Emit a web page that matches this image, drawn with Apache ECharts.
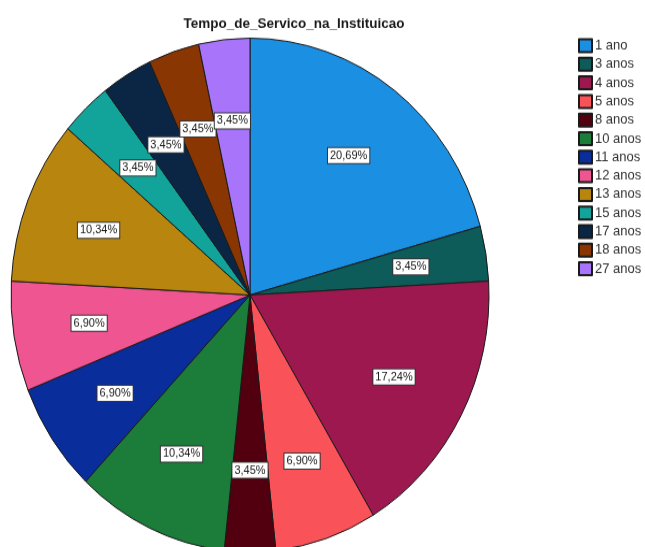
<!DOCTYPE html>
<html>
<head>
<meta charset="utf-8">
<script src="https://cdn.jsdelivr.net/npm/echarts@6/dist/echarts.min.js"></script>
<style>
  html, body { margin: 0; padding: 0; background: #ffffff; overflow: hidden; }
  #wrap { width: 645px; height: 547px; overflow: hidden; }
  /* the chart is drawn slightly taller than wide, like the original export */
  #chart { width: 645px; height: 509px; transform: scaleY(1.0747); transform-origin: 0 0; }
</style>
</head>
<body>
<div id="wrap"><div id="chart"></div></div>
<script>
// Tempo de serviço na instituição (frequências)
const categories = ['1 ano', '3 anos', '4 anos', '5 anos', '8 anos', '10 anos', '11 anos',
                    '12 anos', '13 anos', '15 anos', '17 anos', '18 anos', '27 anos'];
const counts = [6, 1, 5, 2, 1, 3, 2, 2, 3, 1, 1, 1, 1];
const sliceColors = ['#1b8fe2', '#0e5c5a', '#9e1850', '#f95258', '#52000f', '#1c7c3a', '#0a2d9c',
                     '#ee5591', '#b8860e', '#12a39b', '#0b2545', '#8a3602', '#a874fa'];

const total = counts.reduce((a, b) => a + b, 0);
const pieData = categories.map((name, i) => ({
  name: name,
  value: counts[i],
  itemStyle: { color: sliceColors[i] }
}));

const fmtPct = p => (p.value / total * 100).toFixed(2).replace('.', ',') + '%';

const chart = echarts.init(document.getElementById('chart'), null, { renderer: 'canvas' });
chart.setOption({
  animation: false,
  backgroundColor: '#ffffff',
  title: {
    text: 'Tempo_de_Servico_na_Instituicao',
    left: 289,
    textAlign: 'center',
    top: 10,
    textStyle: { fontFamily: 'Liberation Sans, Arial, sans-serif', fontSize: 13.5, fontWeight: 'bold', color: '#1a1a1a' }
  },
  legend: {
    orient: 'vertical',
    left: 573,
    top: 30.5,
    itemWidth: 13,
    itemHeight: 12,
    itemGap: 3.3,
    icon: 'rect',
    textStyle: { fontFamily: 'Liberation Sans, Arial, sans-serif', fontSize: 13, color: '#333333', padding: [0, 0, 0, -2] },
    data: categories
  },
  series: [
    {
      // slices
      type: 'pie',
      center: [250, 274.5],
      radius: [0, 239],
      startAngle: 90,
      clockwise: true,
      avoidLabelOverlap: false,
      label: { show: false },
      labelLine: { show: false },
      emphasis: { disabled: true },
      itemStyle: { borderColor: '#1a1a1a', borderWidth: 1 },
      data: pieData
    },
    {
      // percentage boxes, placed at about two thirds of the radius
      type: 'pie',
      center: [250, 274.5],
      radius: [0, 320],
      startAngle: 90,
      clockwise: true,
      silent: true,
      legendHoverLink: false,
      avoidLabelOverlap: false,
      itemStyle: { color: 'rgba(0,0,0,0)', borderWidth: 0 },
      emphasis: { disabled: true },
      labelLine: { show: false },
      labelLayout: { hideOverlap: false },
      label: {
        show: true,
        position: 'inside',
        formatter: fmtPct,
        fontFamily: 'Liberation Sans, Arial, sans-serif',
        fontSize: 11,
        color: '#1a1a1a',
        backgroundColor: '#ffffff',
        borderColor: '#333333',
        borderWidth: 1,
        padding: [2, 2, 1, 2]
      },
      data: categories.map((name, i) => ({ name: name, value: counts[i] }))
    }
  ]
});
</script>
</body>
</html>
